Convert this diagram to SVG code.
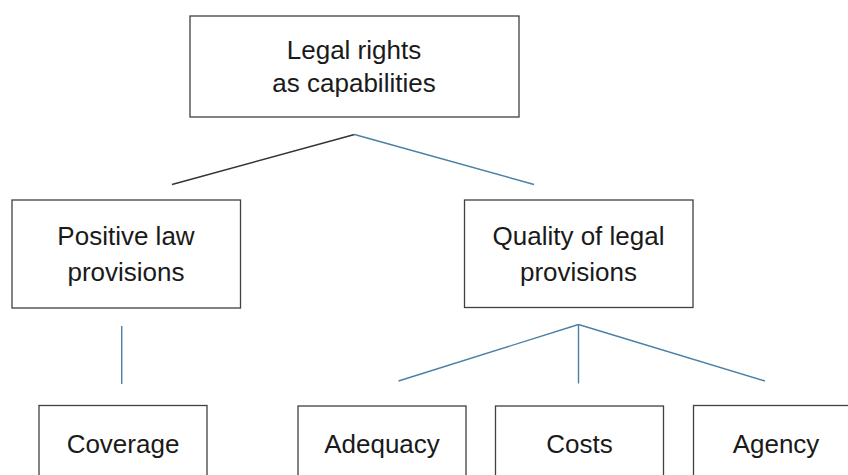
<svg xmlns="http://www.w3.org/2000/svg" width="848" height="475" viewBox="0 0 848 475">
  <style>
    .box { fill: #ffffff; stroke: #404040; stroke-width: 1.3; }
    .label { font-family: "Liberation Sans", Arial, sans-serif; font-size: 26px; fill: #1a1a1a; text-anchor: middle; }
    .link { fill: none; stroke: #4a80a6; stroke-width: 1.4; }
    .link-dark { fill: none; stroke: #333333; stroke-width: 1.4; }
  </style>
  <rect width="848" height="475" fill="#ffffff"/>

  <g id="connectors">
    <!-- root to second level -->
    <line class="link-dark" x1="172" y1="184.5" x2="354.5" y2="134.5"/>
    <line class="link" x1="354.5" y1="134.5" x2="534" y2="184.5"/>
    <!-- positive law to coverage -->
    <line class="link" x1="121.7" y1="326" x2="121.7" y2="384"/>
    <!-- quality fan -->
    <line class="link" x1="578.5" y1="324.5" x2="398.5" y2="381"/>
    <line class="link" x1="578.5" y1="324.5" x2="578.5" y2="383.5"/>
    <line class="link" x1="578.5" y1="324.5" x2="765" y2="381"/>
  </g>

  <g id="node-root">
    <rect class="box" x="190" y="16" width="329" height="101"/>
    <text class="label" x="354" y="58.5">Legal rights</text>
    <text class="label" x="354" y="92">as capabilities</text>
  </g>

  <g id="node-positive-law">
    <rect class="box" x="12" y="200" width="228.5" height="108"/>
    <text class="label" x="126" y="245">Positive law</text>
    <text class="label" x="126" y="280.5">provisions</text>
  </g>

  <g id="node-quality">
    <rect class="box" x="464.5" y="200" width="228.5" height="107.5"/>
    <text class="label" x="578.5" y="245">Quality of legal</text>
    <text class="label" x="578.5" y="280.5">provisions</text>
  </g>

  <g id="node-coverage">
    <rect class="box" x="39" y="405.5" width="168" height="100"/>
    <text class="label" x="123" y="452.5">Coverage</text>
  </g>

  <g id="node-adequacy">
    <rect class="box" x="298" y="406" width="168" height="100"/>
    <text class="label" x="382" y="452.5">Adequacy</text>
  </g>

  <g id="node-costs">
    <rect class="box" x="495.5" y="406" width="168" height="100"/>
    <text class="label" x="579.5" y="452.5">Costs</text>
  </g>

  <g id="node-agency">
    <rect class="box" x="693.5" y="405.5" width="168" height="100"/>
    <text class="label" x="776" y="452.5">Agency</text>
  </g>
</svg>
